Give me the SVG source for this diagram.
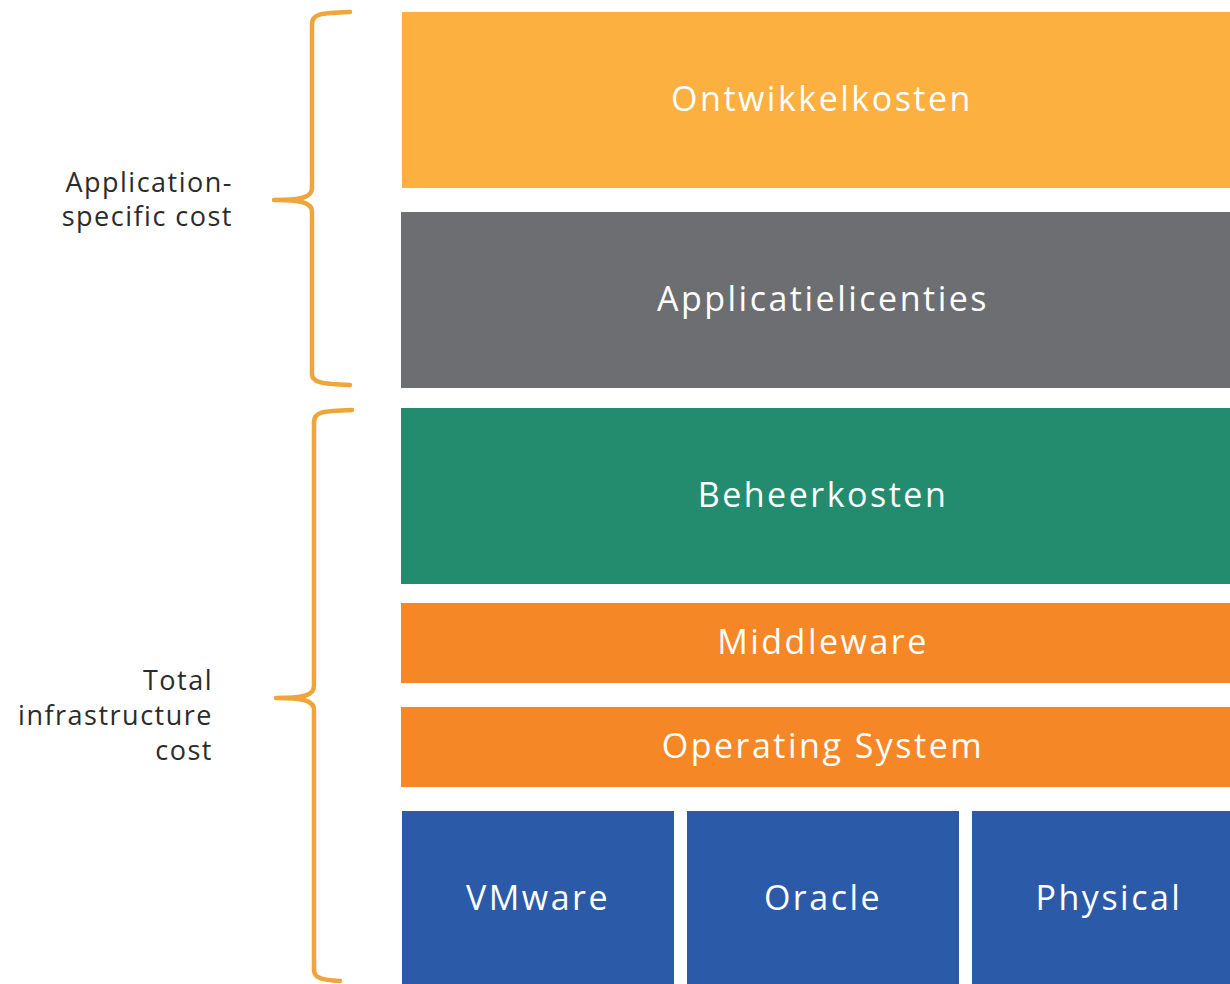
<svg xmlns="http://www.w3.org/2000/svg" width="1230" height="984" viewBox="0 0 1230 984">
<style>
.lbl{font-family:"Open Sans","DejaVu Sans",sans-serif;font-size:34px;fill:#ffffff;text-anchor:middle;letter-spacing:2.5px}
.side{font-family:"Open Sans","DejaVu Sans",sans-serif;font-size:27px;fill:#2b2b2b;text-anchor:end;letter-spacing:1.5px}
.br{fill:none;stroke:#EFA43C;stroke-width:4.5;stroke-linecap:round;stroke-linejoin:round}
</style>
<rect width="1230" height="984" fill="#ffffff"/>
<g id="ontwikkelkosten"><rect x="402" y="12" width="828" height="176" fill="#FBB040"/><text class="lbl" x="822" y="111">Ontwikkelkosten</text></g>
<g id="applicatielicenties"><rect x="401" y="212" width="829" height="176" fill="#6D6E71"/><text class="lbl" x="823" y="311">Applicatielicenties</text></g>
<g id="beheerkosten"><rect x="401" y="408" width="829" height="176" fill="#238C6F"/><text class="lbl" x="823" y="507">Beheerkosten</text></g>
<g id="middleware"><rect x="401" y="603" width="829" height="80" fill="#F58726"/><text class="lbl" x="823" y="654">Middleware</text></g>
<g id="os"><rect x="401" y="707" width="829" height="80" fill="#F58726"/><text class="lbl" x="823" y="758">Operating System</text></g>
<g id="vmware"><rect x="402" y="811" width="272" height="173" fill="#2B5AA8"/><text class="lbl" x="538" y="910">VMware</text></g>
<g id="oracle"><rect x="687" y="811" width="272" height="173" fill="#2B5AA8"/><text class="lbl" x="823" y="910">Oracle</text></g>
<g id="physical"><rect x="972" y="811" width="258" height="173" fill="#2B5AA8"/><text class="lbl" x="1109" y="910">Physical</text></g>
<g id="connectors">
<path class="br" d="M350,12 C320,13 312,14 312,24 L312,188 C312,198 300,200 274,200 C300,200 312,202 312,212 L312,374 C312,382 320,384 350,385"/>
<path class="br" d="M352,410 C322,411 314,412 314,422 L314,686 C314,696 302,698 276,698 C302,698 314,700 314,710 L314,970 C314,978 322,980 340,981"/>
</g>
<g id="label-app"><text class="side" x="233" y="192">Application-</text><text class="side" x="233" y="226">specific cost</text></g>
<g id="label-infra"><text class="side" x="213" y="690">Total</text><text class="side" x="213" y="725">infrastructure</text><text class="side" x="213" y="760">cost</text></g>
</svg>
